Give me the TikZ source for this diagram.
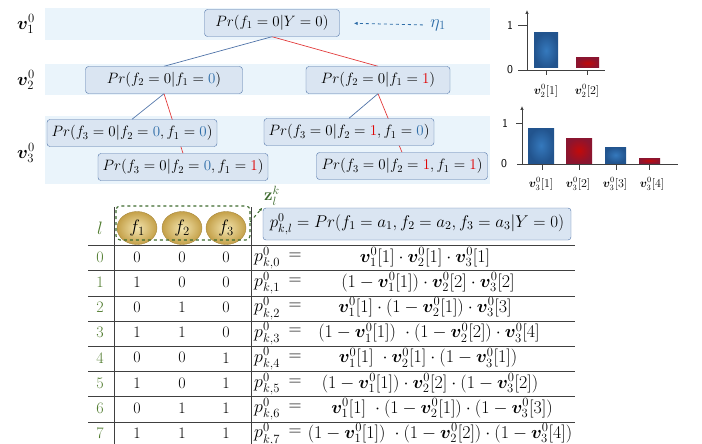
\RequirePackage{fix-cm}
\documentclass[tikz,border=0pt]{standalone}
\usepackage{amsmath}
\usepackage{amssymb}
\usepackage{bm}
\usetikzlibrary{arrows.meta, positioning, calc, backgrounds, shapes.geometric}
\definecolor{bandblue}{HTML}{EAF4FB}
\definecolor{nodeblue}{HTML}{DAE5F2}
\definecolor{edgeblue}{HTML}{4F73A8}
\definecolor{edgered}{HTML}{E23B3B}
\definecolor{valblue}{HTML}{2E6DA8}
\definecolor{valred}{HTML}{E00000}
\definecolor{idxgreen}{HTML}{4E7A2C}
\definecolor{boxgreen}{HTML}{3D6A2E}
\definecolor{goldlight}{HTML}{F3E5B0}
\definecolor{golddark}{HTML}{C4A048}
\definecolor{barbluein}{HTML}{3579BD}
\definecolor{barblueout}{HTML}{22548E}
\definecolor{barredin}{HTML}{C20A0A}
\definecolor{barredout}{HTML}{8A1530}
\definecolor{gridgray}{HTML}{404040}
\pgfdeclarelayer{bands}
\pgfsetlayers{bands,background,main}

\newcommand{\bv}[2]{\bm{v}_{#1}^{0}[#2]}
\newcommand{\cblu}[1]{\textcolor{valblue}{#1}}
\newcommand{\cred}[1]{\textcolor{valred}{#1}}

\begin{document}
\begin{tikzpicture}[x=1pt, y=-1pt, font=\fontsize{15}{17}\selectfont,
  prnode/.style={draw=edgeblue, fill=nodeblue, rounded corners=3pt, minimum height=27pt, inner xsep=3pt},
  blueedge/.style={edgeblue, line width=0.7pt},
  rededge/.style={edgered, line width=0.7pt},
  gridline/.style={gridgray, line width=0.8pt},
  tabtext/.style={font=\fontsize{16}{18}\selectfont, inner sep=1pt},
  rhstext/.style={font=\fontsize{18}{20}\selectfont, inner sep=0pt},
  barlabel/.style={font=\fontsize{12}{14}\selectfont, inner sep=0pt},
  axislabel/.style={font=\sffamily\fontsize{12}{14}\selectfont, inner sep=1pt},
  ballnode/.style={ellipse, minimum width=40pt, minimum height=33pt, inner sep=0pt, draw=golddark!85!black, shading=radial, inner color=goldlight, outer color=golddark, font=\fontsize{18}{20}\selectfont},
  bluebar/.style={shading=radial, inner color=barbluein, outer color=barblueout},
  redbar/.style={shading=radial, inner color=barredin, outer color=barredout}]
  \useasboundingbox (0,0) rectangle (702,444);

  % level bands
  \begin{pgfonlayer}{bands}
    \fill[bandblue] (45,8) rectangle (490,40);
    \fill[bandblue] (45,64) rectangle (490,95);
    \fill[bandblue] (45,116) rectangle (490,184);
  \end{pgfonlayer}
  \node[font=\fontsize{18}{20}\selectfont, inner sep=1pt] (lv1) at (26,24) {$\bm{v}_1^0$};
  \node[font=\fontsize{18}{20}\selectfont, inner sep=1pt] (lv2) at (26,80) {$\bm{v}_2^0$};
  \node[font=\fontsize{18}{20}\selectfont, inner sep=1pt] (lv3) at (26,153) {$\bm{v}_3^0$};

  % tree of conditionals
  \node[prnode, minimum width=135pt] (root) at (272,23) {$Pr(f_1=0|Y=0)$};
  \node[prnode, minimum width=157pt] (n0) at (164,80) {$Pr(f_2=0|f_1=\cblu{0})$};
  \node[prnode, minimum width=144pt] (n1) at (378,80) {$Pr(f_2=0|f_1=\cred{1})$};
  \node[prnode, minimum width=170pt] (n00) at (132,133) {$Pr(f_3=0|f_2=\cblu{0},f_1=\cblu{0})$};
  \node[prnode, minimum width=170pt] (n01) at (183,167) {$Pr(f_3=0|f_2=\cblu{0},f_1=\cred{1})$};
  \node[prnode, minimum width=170pt] (n10) at (349,132) {$Pr(f_3=0|f_2=\cred{1},f_1=\cblu{0})$};
  \node[prnode, minimum width=171pt] (n11) at (402,166) {$Pr(f_3=0|f_2=\cred{1},f_1=\cred{1})$};
  \begin{pgfonlayer}{background}
    \draw[blueedge] (root.south) -- (n0.north);
    \draw[rededge] (root.south) -- (n1.north);
    \draw[blueedge] (n0.south) -- (n00.north);
    \draw[rededge] (n0.south) -- (n01.north);
    \draw[blueedge] (n1.south) -- (n10.north);
    \draw[rededge] (n1.south) -- (n11.north);
  \end{pgfonlayer}
  \node[text=valblue, font=\fontsize{18}{20}\selectfont] (eta) at (438,25) {$\eta_1$};
  \draw[valblue, dashed, line width=0.8pt, -{Latex[length=4pt,width=3.5pt]}, shorten <=4pt, shorten >=14pt] (eta.west) -- (root.east);

  % bar chart of v_2
  \draw[gridgray, line width=0.7pt, -{Latex[length=4pt,width=3.5pt]}] (527,70) -- (527,10);
  \draw[gridgray, line width=0.7pt] (518,70) -- (605,70);
  \draw[gridgray, line width=0.7pt] (518,25) -- (527,25);
  \fill[bluebar] (534,33) rectangle (558,68);
  \fill[redbar] (576,58) rectangle (599,68);
  \draw[gridgray, line width=0.7pt] (546,70) -- (546,75) (587,70) -- (587,75);
  \node[axislabel] (ya1) at (510,25) {1};
  \node[axislabel] (ya0) at (510,70) {0};
  \node[barlabel] (xa1) at (546,91) {$\bv{2}{1}$};
  \node[barlabel] (xa2) at (587,91) {$\bv{2}{2}$};

  % bar chart of v_3
  \draw[gridgray, line width=0.7pt, -{Latex[length=4pt,width=3.5pt]}] (522,164) -- (522,106);
  \draw[gridgray, line width=0.7pt] (517,164) -- (678,164);
  \draw[gridgray, line width=0.7pt] (516,123) -- (522,123);
  \fill[bluebar] (528,128) rectangle (554,163);
  \fill[redbar] (566,138) rectangle (592,163);
  \fill[bluebar] (605,147) rectangle (626,163);
  \fill[redbar] (639,158) rectangle (660,163);
  \draw[gridgray, line width=0.7pt] (542,164) -- (542,170) (579,164) -- (579,170) (616,164) -- (616,170) (649,164) -- (649,170);
  \node[axislabel] (yb1) at (505,123) {1};
  \node[axislabel] (yb0) at (504,164) {0};
  \node[barlabel] (xb1) at (541,184) {$\bv{3}{1}$};
  \node[barlabel] (xb2) at (578,184) {$\bv{3}{2}$};
  \node[barlabel] (xb3) at (615,184) {$\bv{3}{3}$};
  \node[barlabel] (xb4) at (652,184) {$\bv{3}{4}$};

  % table header
  \node[tabtext, text=idxgreen, font=\fontsize{18}{20}\selectfont] (lhead) at (100,228) {$l$};
  \node[ballnode] (f1) at (137,228) {$f_1$};
  \node[ballnode] (f2) at (182,228) {$f_2$};
  \node[ballnode] (f3) at (226,228) {$f_3$};
  \draw[boxgreen, dashed, line width=1.1pt, rounded corners=4pt] (116,206) rectangle (250,240);
  \node[prnode, minimum width=308pt, minimum height=32pt, font=\fontsize{17}{19}\selectfont] (pbox) at (417,224) {$p_{k,l}^0=Pr(f_1=a_1,f_2=a_2,f_3=a_3|Y=0)$};
  \node[text=boxgreen, font=\fontsize{17}{19}\selectfont, inner sep=1pt] (zlab) at (272,196) {$\mathbf{z}_l^k$};
  \coordinate (fbox) at (250,222);
  \draw[boxgreen, dashed, line width=1pt, -{Latex[length=3.5pt,width=3pt]}, shorten >=1pt] (fbox) -- (zlab.south west);

  % table body
  \draw[gridline] (114,207) -- (114,444);
  \draw[gridline] (251,207) -- (251,444);
  \draw[gridline] (88,245.5) -- (575,245.5);
  \foreach \k in {1,...,7}
    \draw[gridline] (88,245.5+25.2*\k) -- (575,245.5+25.2*\k);
  \foreach \a/\b/\c/\xc/\rhs [count=\k from 0] in {
      0/0/0/425/{\bv{1}{1}\cdot\bv{2}{1}\cdot\bv{3}{1}},
      1/0/0/428/{(1-\bv{1}{1})\cdot\bv{2}{2}\cdot\bv{3}{2}},
      0/1/0/425/{\bv{1}{1}\cdot(1-\bv{2}{1})\cdot\bv{3}{3}},
      1/1/0/429/{(1-\bv{1}{1})\;\cdot(1-\bv{2}{2})\cdot\bv{3}{4}},
      0/0/1/428/{\bv{1}{1}\;\cdot\bv{2}{1}\cdot(1-\bv{3}{1})},
      1/0/1/430/{(1-\bv{1}{1})\cdot\bv{2}{2}\cdot(1-\bv{3}{2})},
      0/1/1/442/{\bv{1}{1}\;\cdot(1-\bv{2}{1})\cdot(1-\bv{3}{3})},
      1/1/1/440/{(1-\bv{1}{1})\;\cdot(1-\bv{2}{2})\cdot(1-\bv{3}{4})}} {
    \node[tabtext, text=idxgreen] (l\k) at (100,257+25.2*\k) {\k};
    \node[tabtext] (a\k) at (137,257+25.2*\k) {\a};
    \node[tabtext] (b\k) at (182,257+25.2*\k) {\b};
    \node[tabtext] (c\k) at (226,257+25.2*\k) {\c};
    \node[rhstext, anchor=west] (p\k) at (254,258+25.2*\k) {$p_{k,\k}^0$};
    \node[rhstext] (eq\k) at (295,256+25.2*\k) {$=$};
    \node[rhstext] (r\k) at (\xc,257+25.2*\k) {$\rhs$};
  }
\end{tikzpicture}
\end{document}
